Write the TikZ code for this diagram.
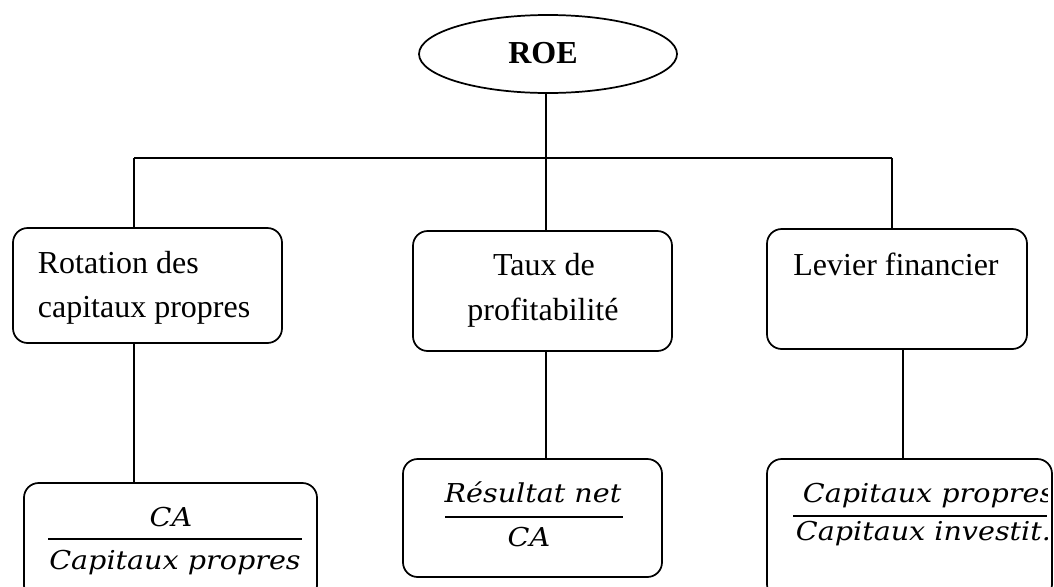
\documentclass[tikz,border=0pt]{standalone}
\usepackage{fontspec}
\setmainfont{Liberation Serif}
\newfontfamily\fracfont{DejaVu Serif}[FakeStretch=1.1]
\usetikzlibrary{shapes.geometric}
\begin{document}
\begin{tikzpicture}[x=0.75pt,y=-0.75pt,
  line width=1.3pt,
  box/.style={draw, rectangle, rounded corners=11pt, inner sep=0pt},
  conn/.style={draw, line width=1.2pt},
  lbl/.style={inner sep=0pt, anchor=base, font=\fontsize{24pt}{28pt}\selectfont},
  lblw/.style={lbl, anchor=base west},
  frac/.style={inner sep=0pt, anchor=base, font=\fontsize{19.5pt}{23pt}\fracfont\itshape},
  fracw/.style={frac, anchor=base west},
  rulebar/.style={line width=1.5pt}]
\useasboundingbox (0,0) rectangle (1054,586);
\clip (0,0) rectangle (1054,586);

% top of the tree
\node[draw, ellipse, inner sep=0pt, minimum width=193.5pt, minimum height=58.5pt] (roe) at (548,54) {};
\node[lbl, font=\fontsize{24pt}{28pt}\selectfont\bfseries] (roetxt) at (543,63) {ROE};

% first level boxes
\node[box, minimum width=201.75pt, minimum height=86.25pt] (b1) at (147.5,285.5) {};
\node[box, minimum width=194.25pt, minimum height=90pt] (b2) at (542.5,291) {};
\node[box, minimum width=195pt, minimum height=90pt] (b3) at (897,289) {};

\node[lblw] (t1a) at (37,273) {Rotation des};
\node[lblw] (t1b) at (37,317) {capitaux propres};
\node[lbl] (t2a) at (544,275) {Taux de};
\node[lbl] (t2b) at (543,320) {profitabilité};
\node[lbl] (t3a) at (896,275) {Levier financier};

% ratio boxes
\node[box, minimum width=219.75pt, minimum height=87.75pt] (f1) at (170.5,541.5) {};
\node[box, minimum width=194.25pt, minimum height=88.5pt] (f2) at (532.5,518) {};
\node[box, minimum width=213.75pt, minimum height=105pt] (f3) at (909.5,529) {};

% ratio 1
\node[frac] (n1) at (171,526) {CA};
\coordinate (r1a) at (48,539);
\coordinate (r1b) at (302,539);
\draw[rulebar] (r1a) -- (r1b);
\node[frac] (d1) at (175,569) {Capitaux propres};

% ratio 2
\node[frac] (n2) at (533,502) {Résultat net};
\coordinate (r2a) at (445,517);
\coordinate (r2b) at (623,517);
\draw[rulebar] (r2a) -- (r2b);
\node[frac] (d2) at (529,546) {CA};

% ratio 3, cut at the right
\begin{scope}
  \clip (767,440) rectangle (1047,586);
  \node[fracw] (n3) at (802,502) {Capitaux propres};
  \coordinate (r3a) at (793,516);
  \coordinate (r3b) at (1047,516);
  \draw[rulebar] (r3a) -- (r3b);
  \node[fracw] (d3) at (795,540) {Capitaux investit.};
\end{scope}

% connectors
\coordinate (hl) at (134,158);
\coordinate (hm) at (546,158);
\coordinate (hr) at (892,158);
\coordinate (lr) at (903,400);
\draw[conn] (roe.south -| hm) -- (hm);
\draw[conn] (hl) -- (hr);
\draw[conn] (hl) -- (hl |- b1.north);
\draw[conn] (hm) -- (hm |- b2.north);
\draw[conn] (hr) -- (hr |- b3.north);
\draw[conn] (b1.south -| hl) -- (hl |- f1.north);
\draw[conn] (b2.south -| hm) -- (hm |- f2.north);
\draw[conn] (b3.south -| lr) -- (lr |- f3.north);
\end{tikzpicture}
\end{document}
